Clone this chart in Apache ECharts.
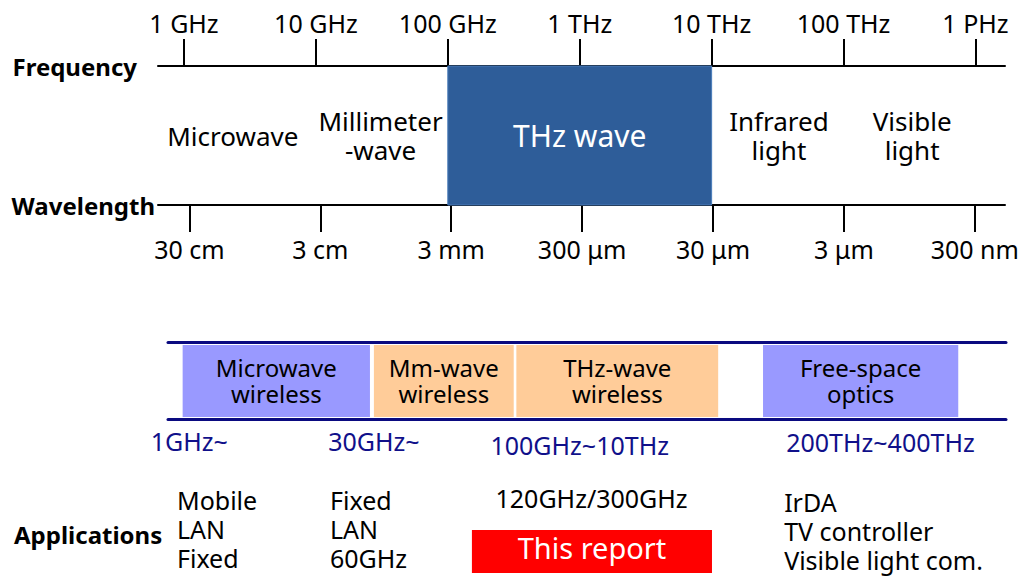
<!DOCTYPE html>
<html><head><meta charset="utf-8">
<script src="https://cdn.jsdelivr.net/npm/echarts@6/dist/echarts.min.js"></script>
<style>html,body{margin:0;padding:0;background:#fff}#c{width:1024px;height:576px}</style>
</head><body><div id="c"></div>
<script>
// Frequency axis, values in log10(Hz)
const freqTicks = [9, 10, 11, 12, 13, 14, 15];
const freqLabels = ['1 GHz', '10 GHz', '100 GHz', '1 THz', '10 THz', '100 THz', '1 PHz'];
// Wavelength axis, values in log10(m)
const waveTicks = [-0.5229, -1.5229, -2.5229, -3.5229, -4.5229, -5.5229, -6.5229];
const waveLabels = ['30 cm', '3 cm', '3 mm', '300 μm', '30 μm', '3 μm', '300 nm'];
// Spectrum bands (label centres, log10 Hz)
const bandNames = ['Microwave', 'Millimeter\n-wave', 'THz wave', 'Infrared\nlight', 'Visible\nlight'];
const bandCenters = [9.37, 10.49, 12.0, 13.51, 14.52];
const thzBand = [11, 13];
// Wireless bands (schematic extents, log10 Hz)
const wirelessNames = ['Microwave\nwireless', 'Mm-wave\nwireless', 'THz-wave\nwireless', 'Free-space\noptics'];
const wirelessStart = [8.99, 10.44, 11.52, 13.39];
const wirelessEnd = [10.41, 11.50, 13.05, 14.87];
const wirelessRanges = ['1GHz~', '30GHz~', '100GHz~10THz', '200THz~400THz'];
const rangeCenters = [9.04, 10.44, 12.0, 14.28];
// Applications
const appTexts = ['Mobile\nLAN\nFixed', 'Fixed\nLAN\n60GHz', '120GHz/300GHz', 'IrDA\nTV controller\nVisible light com.'];
const appAnchors = [8.947, 10.107, 12.09, 13.55];
const reportLabel = 'This report';
const reportRange = [11.183, 13.003];

const FONT = '"Noto Sans", "Open Sans", sans-serif';
const wirelessColors = ['#9999FF', '#FFCC99', '#FFCC99', '#9999FF'];
const appAlign = ['left', 'left', 'center', 'left'];
const appRow = [0.69, 0.69, 0.483, 0.70];
const rangeRow = [0.105, 0.105, 0.135, 0.115];

const chart = echarts.init(document.getElementById('c'), null, {renderer: 'svg'});
const freqMin = 8.803, freqMax = 15.224;
const lowMin = 8.879, lowMax = 15.232;

const option = {
  animation: false,
  backgroundColor: '#fff',
  title: {
    text: 'Applications', left: 9, top: 517,
    textStyle: {fontFamily: FONT, fontWeight: 'bold', fontSize: 24, color: '#000'}
  },
  grid: [
    {left: 158, right: 19, top: 66, bottom: 371},
    {left: 168, right: 18, top: 342, bottom: 157},
    {left: 168, right: 18, top: 425, bottom: 0}
  ],
  xAxis: [
    {
      gridIndex: 0, type: 'value', position: 'top', min: freqMin, max: freqMax,
      name: 'Frequency', nameLocation: 'start', nameGap: 21,
      nameTextStyle: {fontFamily: FONT, fontWeight: 'bold', fontSize: 24, color: '#000'},
      axisLine: {show: true, onZero: false, lineStyle: {color: '#000', width: 2}},
      axisTick: {show: true, customValues: freqTicks, length: 27, lineStyle: {color: '#000', width: 2}},
      axisLabel: {show: true, customValues: freqTicks, margin: 31, fontFamily: FONT, fontSize: 25, color: '#000',
        formatter: v => freqLabels[freqTicks.indexOf(v)] ?? ''},
      splitLine: {show: false}
    },
    {
      gridIndex: 0, type: 'value', position: 'bottom', inverse: true, min: -6.754, max: -0.283,
      name: 'Wavelength', nameLocation: 'end', nameGap: 3,
      nameTextStyle: {fontFamily: FONT, fontWeight: 'bold', fontSize: 24, color: '#000'},
      axisLine: {show: true, onZero: false, lineStyle: {color: '#000', width: 2}},
      axisTick: {show: true, customValues: waveTicks, length: 27, lineStyle: {color: '#000', width: 2}},
      axisLabel: {show: true, customValues: waveTicks, margin: 31, fontFamily: FONT, fontSize: 25, color: '#000',
        formatter: v => waveLabels[waveTicks.indexOf(v)] ?? ''},
      splitLine: {show: false}
    },
    {
      gridIndex: 1, type: 'value', position: 'top', min: lowMin, max: lowMax,
      axisLine: {show: true, onZero: false, lineStyle: {color: '#0A0A80', width: 3}},
      axisTick: {show: false}, axisLabel: {show: false}, splitLine: {show: false}
    },
    {
      gridIndex: 1, type: 'value', position: 'bottom', min: lowMin, max: lowMax,
      axisLine: {show: true, onZero: false, lineStyle: {color: '#0A0A80', width: 3}},
      axisTick: {show: false}, axisLabel: {show: false}, splitLine: {show: false}
    },
    {
      gridIndex: 2, type: 'value', min: lowMin, max: lowMax, show: false
    }
  ],
  yAxis: [
    {gridIndex: 0, type: 'value', min: 0, max: 1, show: false},
    {gridIndex: 1, type: 'value', min: 0, max: 1, show: false},
    {gridIndex: 2, type: 'value', min: 0, max: 1, inverse: true, show: false}
  ],
  series: [
    {
      type: 'custom', xAxisIndex: 0, yAxisIndex: 0, silent: true, z: 3,
      encode: {x: [0, 1]},
      data: [thzBand],
      renderItem: (params, api) => {
        const p0 = api.coord([api.value(0), 1]);
        const p1 = api.coord([api.value(1), 0]);
        return {type: 'rect', shape: {x: p0[0], y: p0[1], width: p1[0] - p0[0], height: p1[1] - p0[1]},
          style: {fill: '#2E5D99', stroke: '#4A7CBA', lineWidth: 1}};
      }
    },
    {
      type: 'scatter', xAxisIndex: 0, yAxisIndex: 0, symbolSize: 0, silent: true, z: 5,
      itemStyle: {opacity: 1},
      data: bandCenters.map((x, i) => ({
        value: [x, 0.5],
        label: i === 2 ? {color: '#fff', fontSize: 30} : {}
      })),
      label: {show: true, position: 'inside', fontFamily: FONT, fontSize: 26, lineHeight: 29, color: '#000',
        textBorderWidth: 0, align: 'center',
        formatter: p => bandNames[p.dataIndex]}
    },
    {
      type: 'custom', xAxisIndex: 2, yAxisIndex: 1, silent: true,
      encode: {x: [0, 1]},
      data: wirelessStart.map((s, i) => [s, wirelessEnd[i]]),
      renderItem: (params, api) => {
        const i = params.dataIndex;
        const p0 = api.coord([api.value(0), 0.961]);
        const p1 = api.coord([api.value(1), 0.026]);
        return {type: 'group', children: [
          {type: 'rect', shape: {x: p0[0], y: p0[1], width: p1[0] - p0[0], height: p1[1] - p0[1]},
            style: {fill: wirelessColors[i]}},
          {type: 'text', x: (p0[0] + p1[0]) / 2, y: (p0[1] + p1[1]) / 2 - 1,
            style: {text: wirelessNames[i], fill: '#000', fontFamily: FONT, fontSize: 24, lineHeight: 26,
              align: 'center', verticalAlign: 'middle'}}
        ]};
      }
    },
    {
      type: 'scatter', xAxisIndex: 4, yAxisIndex: 2, symbolSize: 0, silent: true,
      itemStyle: {opacity: 1},
      data: rangeCenters.map((x, i) => [x, rangeRow[i]]),
      label: {show: true, position: 'inside', fontFamily: FONT, fontSize: 25, color: '#10108A', align: 'center',
        textBorderWidth: 0, formatter: p => wirelessRanges[p.dataIndex]}
    },
    {
      type: 'custom', xAxisIndex: 4, yAxisIndex: 2, silent: true,
      encode: {x: [0, 1]},
      data: [reportRange],
      renderItem: (params, api) => {
        const p0 = api.coord([api.value(0), 0.695]);
        const p1 = api.coord([api.value(1), 0.98]);
        return {type: 'group', children: [
          {type: 'rect', shape: {x: p0[0], y: p0[1], width: p1[0] - p0[0], height: p1[1] - p0[1]},
            style: {fill: '#FF0000'}},
          {type: 'text', x: (p0[0] + p1[0]) / 2, y: (p0[1] + p1[1]) / 2 - 4,
            style: {text: reportLabel, fill: '#fff', fontFamily: FONT, fontSize: 29,
              align: 'center', verticalAlign: 'middle'}}
        ]};
      }
    },
    {
      type: 'scatter', xAxisIndex: 4, yAxisIndex: 2, symbolSize: 0, silent: true,
      itemStyle: {opacity: 1},
      data: appAnchors.map((x, i) => ({value: [x, appRow[i]], label: {align: appAlign[i]}})),
      label: {show: true, position: 'inside', fontFamily: FONT, fontSize: 25, lineHeight: 29, color: '#000',
        textBorderWidth: 0, formatter: p => appTexts[p.dataIndex]}
    }
  ]
};
chart.setOption(option);
</script>
</body></html>
